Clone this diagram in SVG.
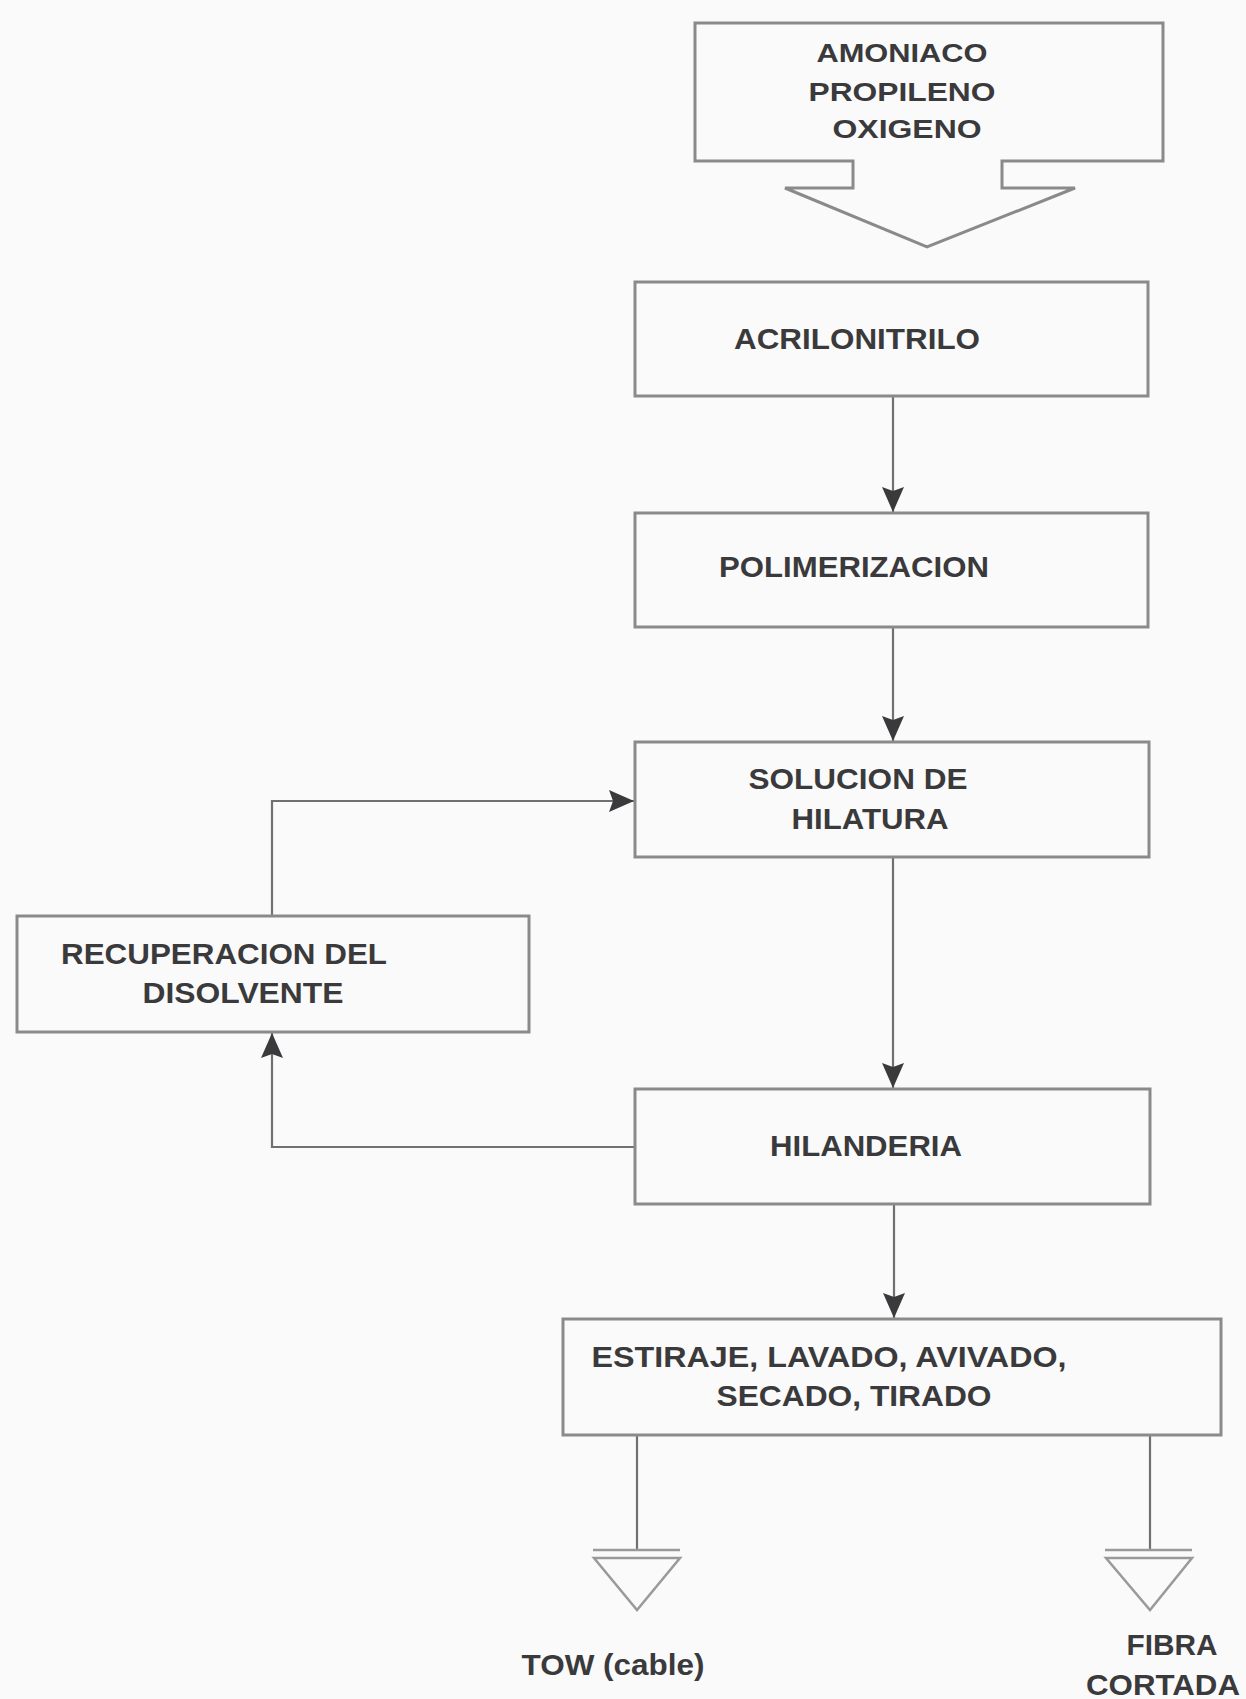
<svg xmlns="http://www.w3.org/2000/svg" width="1246" height="1699" viewBox="0 0 1246 1699">
<defs>
<style>
.box{fill:none;stroke:#8a8a8a;stroke-width:3}
.ln{fill:none;stroke:#707070;stroke-width:2.2}
.out{fill:none;stroke:#9a9a9a;stroke-width:2.5}
.t{font-family:"Liberation Sans",Arial,sans-serif;font-weight:bold;font-size:30px;fill:#3a3a3c;text-anchor:middle}
</style>
<marker id="ah" markerUnits="userSpaceOnUse" markerWidth="26" markerHeight="24" viewBox="0 0 26 24" refX="25" refY="12" orient="auto">
<path d="M0,1 L25,12 L0,23 L4,12 Z" fill="#3a3a3c"/>
</marker>
</defs>
<rect width="1246" height="1699" fill="#fafafa"/>

<g id="connectors">
<line class="ln" x1="893" y1="396" x2="893" y2="512" marker-end="url(#ah)"/>
<line class="ln" x1="893" y1="627" x2="893" y2="741" marker-end="url(#ah)"/>
<line class="ln" x1="893" y1="857" x2="893" y2="1088" marker-end="url(#ah)"/>
<line class="ln" x1="894" y1="1204" x2="894" y2="1318" marker-end="url(#ah)"/>
<polyline class="ln" points="635,1147 272,1147 272,1033" marker-end="url(#ah)"/>
<polyline class="ln" points="272,916 272,801 634,801" marker-end="url(#ah)"/>
<line class="ln" x1="637" y1="1435" x2="637" y2="1550"/>
<line class="ln" x1="1150" y1="1435" x2="1150" y2="1550"/>
</g>

<g id="n-inputs">
<path class="box" d="M695,23 H1163 V161 H1002 V188 H1075 L927,247 L785,188 H853 V161 H695 Z"/>
<text class="t" transform="translate(902,62) scale(1,0.85)" textLength="171" lengthAdjust="spacingAndGlyphs">AMONIACO</text>
<text class="t" transform="translate(902,101) scale(1,0.85)" textLength="187" lengthAdjust="spacingAndGlyphs">PROPILENO</text>
<text class="t" transform="translate(907,138) scale(1,0.85)" textLength="149" lengthAdjust="spacingAndGlyphs">OXIGENO</text>
</g>

<g id="n-acrilonitrilo">
<rect class="box" x="635" y="282" width="513" height="114"/>
<text class="t" x="857" y="349" textLength="246" lengthAdjust="spacingAndGlyphs">ACRILONITRILO</text>
</g>

<g id="n-polimerizacion">
<rect class="box" x="635" y="513" width="513" height="114"/>
<text class="t" x="854" y="577" textLength="270" lengthAdjust="spacingAndGlyphs">POLIMERIZACION</text>
</g>

<g id="n-solucion">
<rect class="box" x="635" y="742" width="514" height="115"/>
<text class="t" x="858" y="789" textLength="219" lengthAdjust="spacingAndGlyphs">SOLUCION DE</text>
<text class="t" x="870" y="829" textLength="157" lengthAdjust="spacingAndGlyphs">HILATURA</text>
</g>

<g id="n-recuperacion">
<rect class="box" x="17" y="916" width="512" height="116"/>
<text class="t" x="224" y="964" textLength="326" lengthAdjust="spacingAndGlyphs">RECUPERACION DEL</text>
<text class="t" x="243" y="1003" textLength="201" lengthAdjust="spacingAndGlyphs">DISOLVENTE</text>
</g>

<g id="n-hilanderia">
<rect class="box" x="635" y="1089" width="515" height="115"/>
<text class="t" x="866" y="1156" textLength="192" lengthAdjust="spacingAndGlyphs">HILANDERIA</text>
</g>

<g id="n-estiraje">
<rect class="box" x="563" y="1319" width="658" height="116"/>
<text class="t" x="829" y="1367" textLength="475" lengthAdjust="spacingAndGlyphs">ESTIRAJE, LAVADO, AVIVADO,</text>
<text class="t" x="854" y="1406" textLength="275" lengthAdjust="spacingAndGlyphs">SECADO, TIRADO</text>
</g>

<g id="n-tow">
<line class="out" x1="593" y1="1550" x2="680" y2="1550"/>
<polygon class="out" points="594,1558 680,1558 637,1610"/>
<text class="t" x="613" y="1675" textLength="183" lengthAdjust="spacingAndGlyphs">TOW (cable)</text>
</g>

<g id="n-fibra">
<line class="out" x1="1105" y1="1550" x2="1192" y2="1550"/>
<polygon class="out" points="1106,1558 1192,1558 1150,1610"/>
<text class="t" x="1172" y="1655" textLength="91" lengthAdjust="spacingAndGlyphs">FIBRA</text>
<text class="t" x="1163" y="1695" textLength="154" lengthAdjust="spacingAndGlyphs">CORTADA</text>
</g>
</svg>
